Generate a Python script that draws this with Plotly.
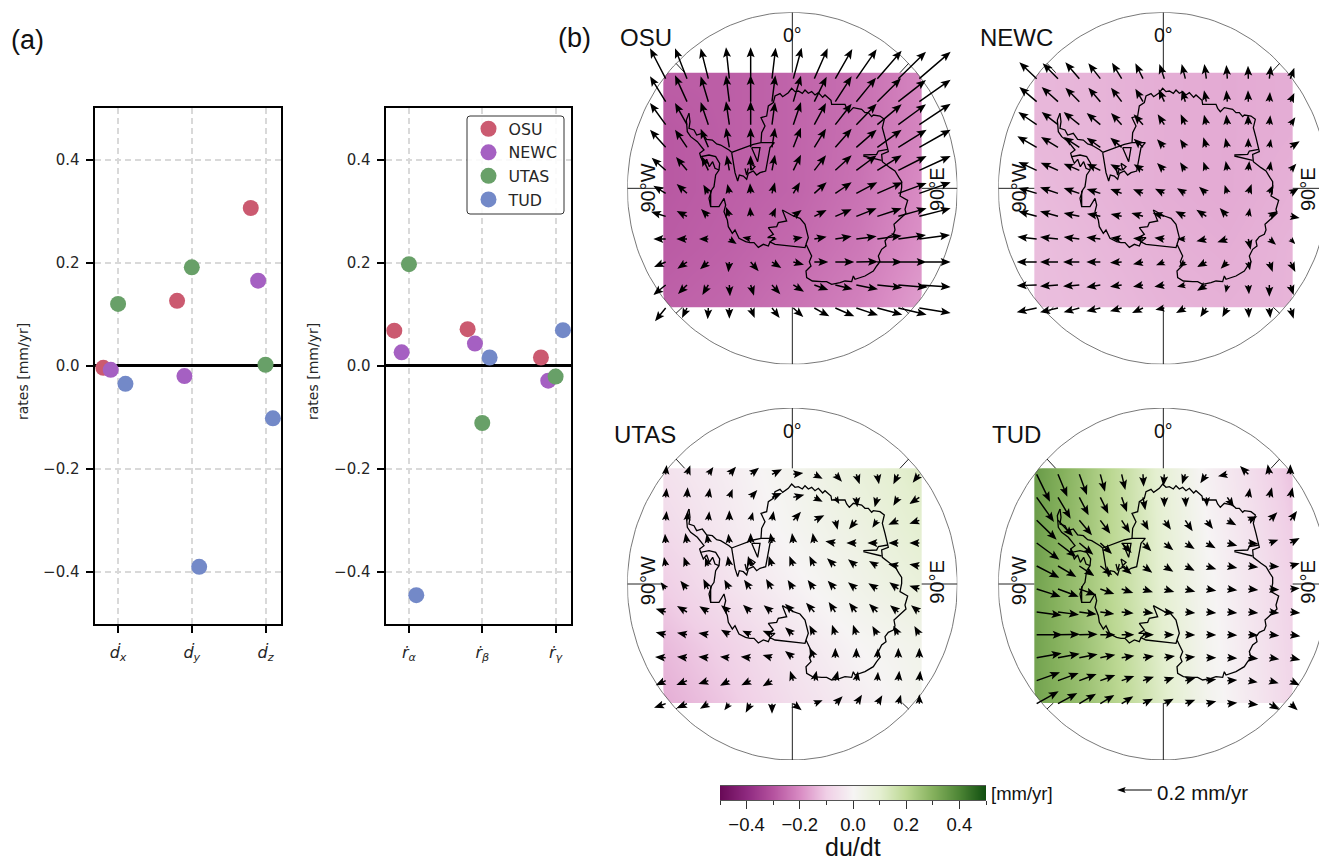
import math
import plotly.graph_objects as go

W, H = 1319, 861

# ---------- panel (a): rates ----------
SERIES = ["OSU", "NEWC", "UTAS", "TUD"]
SERIES_COLORS = ["#cb5a70", "#a560c2", "#68a068", "#7389c8"]
OFFSETS = [-0.2, -0.1, 0.0, 0.1]
TRANS_LABELS = ["<i>ḋ</i><sub><i>x</i></sub>", "<i>ḋ</i><sub><i>y</i></sub>", "<i>ḋ</i><sub><i>z</i></sub>"]
ROT_LABELS = ["<i>ṙ</i><sub><i>α</i></sub>", "<i>ṙ</i><sub><i>β</i></sub>", "<i>ṙ</i><sub><i>γ</i></sub>"]
TRANS_RATES = {
    "OSU": [-0.004, 0.126, 0.306],
    "NEWC": [-0.008, -0.020, 0.165],
    "UTAS": [0.120, 0.191, 0.002],
    "TUD": [-0.035, -0.390, -0.102],
}
ROT_RATES = {
    "OSU": [0.068, 0.071, 0.016],
    "NEWC": [0.026, 0.043, -0.029],
    "UTAS": [0.197, -0.111, -0.021],
    "TUD": [-0.445, 0.016, 0.069],
}

# ---------- panel (b): maps, coordinates in map units ----------
COL_X = [197, 261, 325, 388, 452, 516, 580, 643, 706, 769, 832, 895, 958]
ROW_Y = [236, 305, 374, 442, 511, 580, 649, 717, 786, 855, 924]

OSU_UV = [
    [(-47,-91),(-36,-91),(-23,-91),(-10,-94),(0,-94),(11,-93),(25,-93),(40,-91),(51,-89),(61,-88),(73,-84),(83,-81),(94,-81)],
    [(-47,-76),(-36,-79),(-23,-76),(-10,-79),(0,-80),(10,-79),(23,-78),(37,-75),(49,-76),(59,-72),(71,-70),(83,-65),(94,-66)],
    [(-47,-65),(-36,-65),(-23,-68),(-10,-70),(0,-70),(9,-68),(23,-68),(35,-65),(49,-63),(61,-63),(73,-61),(83,-61),(94,-63)],
    [(-47,-53),(-36,-53),(-23,-56),(-10,-59),(0,-59),(9,-59),(23,-59),(35,-56),(49,-56),(61,-53),(73,-53),(85,-53),(94,-53)],
    [(-42,-38),(-33,-40),(-20,-42),(-8,-45),(0,-45),(9,-47),(23,-47),(35,-45),(49,-45),(61,-45),(73,-45),(85,-43),(94,-43)],
    [(-37,-23),(-31,-28),(-15,-26),(-6,-28),(-2,-30),(9,-33),(20,-33),(37,-33),(49,-33),(63,-33),(76,-33),(85,-31),(94,-33)],
    [(-44,-14),(-31,-16),(-22,-22),(-10,-28),(-2,-28),(12,-26),(25,-19),(37,-19),(49,-21),(61,-24),(73,-24),(85,-24),(94,-24)],
    [(-37,0),(-32,0),(-28,0),(22,15),(-25,-5),(15,0),(28,-5),(37,-7),(49,-8),(61,-8),(73,-10),(83,-12),(92,-12)],
    [(-35,15),(-29,20),(-25,22),(-3,31),(24,28),(28,18),(32,8),(42,0),(57,0),(65,-1),(75,0),(85,0),(94,0)],
    [(-37,30),(-27,27),(-18,30),(2,34),(10,32),(25,28),(32,20),(42,15),(52,13),(65,13),(75,8),(87,7),(94,6)],
    [(-32,40),(-15,30),(-2,34),(0,32),(12,30),(23,30),(30,27),(45,25),(57,25),(65,22),(75,20),(85,20),(94,15)],
]
NEWC_UV = [
    [(-52,-49),(-46,-46),(-42,-49),(-36,-46),(-29,-48),(-23,-46),(-15,-44),(-11,-44),(-6,-44),(-3,-41),(-1,-39),(5,-39),(12,-33)],
    [(-52,-44),(-49,-44),(-42,-42),(-36,-42),(-32,-42),(-23,-39),(-17,-37),(-11,-34),(-7,-34),(-3,-34),(-1,-34),(2,-29),(12,-26)],
    [(-55,-38),(-49,-38),(-47,-38),(-41,-35),(-32,-35),(-28,-31),(-20,-31),(-14,-31),(-7,-30),(-3,-30),(-1,-30),(3,-28),(15,-22)],
    [(-58,-33),(-51,-31),(-47,-31),(-41,-29),(-34,-29),(-28,-26),(-22,-24),(-16,-24),(-9,-30),(-6,-28),(0,-28),(5,-25),(28,-18)],
    [(-55,-25),(-52,-23),(-47,-20),(-41,-20),(-34,-18),(-28,-18),(-22,-22),(-16,-24),(-9,-26),(-5,-28),(3,-28),(5,-27),(18,-20)],
    [(-55,-16),(-54,-18),(-47,-16),(-41,-13),(-34,-13),(-30,-12),(-28,-14),(-25,-15),(-22,-20),(-8,-25),(10,-28),(12,-25),(25,-15)],
    [(-55,-15),(-54,-15),(-47,-10),(-40,-8),(-33,-7),(-35,-10),(-35,-10),(-30,-15),(-30,-20),(-23,-25),(5,-25),(25,-15),(28,5)],
    [(-58,-7),(-54,-6),(-47,-6),(-42,-5),(-33,-4),(-30,-2),(-30,-4),(-25,0),(-30,7),(-30,10),(7,32),(20,17),(15,15)],
    [(-60,0),(-54,0),(-49,0),(-42,0),(-35,2),(-30,7),(-25,10),(-20,15),(-28,15),(-20,20),(5,25),(10,30),(15,30)],
    [(-60,2),(-54,4),(-49,4),(-42,7),(-35,5),(-30,5),(-30,5),(-25,5),(-28,17),(-5,23),(2,28),(0,35),(10,30)],
    [(-60,13),(-54,13),(-47,13),(-42,10),(-35,10),(-33,15),(-27,5),(-28,15),(-18,27),(-15,27),(2,30),(3,30),(10,32)],
]
UTAS_UV = [
    [(3,-28),(10,-27),(15,-22),(20,-23),(25,-20),(30,-15),(30,-4),(25,13),(20,22),(10,30),(5,30),(-15,30),(-20,25)],
    [(3,-28),(2,-30),(5,-28),(10,-25),(20,-22),(30,-13),(33,-8),(25,13),(12,20),(3,30),(-8,30),(-15,25),(-30,20)],
    [(3,-28),(3,-27),(3,-27),(0,-30),(7,-25),(5,-28),(23,-26),(30,-15),(7,28),(-22,27),(-15,22),(-30,13),(-30,10)],
    [(-2,-28),(-5,-30),(-5,-28),(-3,-28),(0,-30),(-5,-30),(-4,-30),(-5,-30),(-30,-5),(-30,0),(-30,0),(-30,0),(-30,0)],
    [(-5,-27),(-10,-28),(-10,-26),(-5,-30),(-8,-30),(-10,-30),(-12,-30),(-15,-30),(-25,-23),(-25,-20),(-25,-15),(-30,-5),(-30,-5)],
    [(-15,-20),(-20,-25),(-15,-30),(-15,-28),(-20,-28),(-18,-30),(-17,-27),(-20,-27),(-23,-25),(-25,-20),(-27,-17),(-27,-20),(-30,-10)],
    [(-30,-10),(-30,-18),(-27,-17),(-25,-20),(-23,-22),(-25,-20),(-25,-25),(-25,-28),(-20,-30),(-22,-28),(-25,-25),(-25,-20),(-25,-20)],
    [(-30,-7),(-30,-6),(-30,-5),(-25,-15),(-25,-12),(-28,-12),(-25,-22),(-15,-28),(-10,-30),(-10,-30),(-15,-26),(-15,-27),(-15,-26)],
    [(-32,-2),(-30,-3),(-30,-3),(-28,-3),(-30,-3),(-28,-8),(-25,-20),(-15,-30),(0,-30),(0,-30),(2,-28),(0,-30),(0,-30)],
    [(-30,14),(-32,13),(-30,10),(-28,15),(-28,14),(-28,17),(-10,-30),(7,-30),(8,-30),(5,-28),(2,-27),(3,-30),(3,-30)],
    [(-35,12),(-30,14),(-25,15),(-15,20),(-15,27),(0,30),(25,20),(25,-10),(22,-22),(17,-27),(15,-25),(8,-27),(0,-28)],
]
TUD_UV = [
    [(40,82),(28,67),(23,62),(14,52),(11,47),(2,37),(-3,35),(-10,30),(-18,27),(-28,6),(-25,-25),(-5,-30),(0,-30)],
    [(52,74),(38,64),(28,54),(24,49),(16,44),(7,39),(0,30),(2,30),(2,28),(20,30),(5,-28),(8,-30),(7,-30)],
    [(60,58),(45,48),(38,45),(30,40),(25,38),(17,30),(20,28),(22,33),(20,26),(27,15),(27,-12),(24,-24),(20,-28)],
    [(68,50),(55,42),(42,35),(35,33),(30,30),(25,25),(27,22),(28,18),(28,16),(30,8),(30,2),(27,-10),(28,-15)],
    [(68,35),(55,33),(45,30),(36,28),(30,25),(28,20),(27,17),(28,14),(30,10),(30,6),(30,4),(30,2),(28,-8)],
    [(72,23),(62,23),(50,18),(42,15),(35,12),(30,10),(30,9),(30,8),(30,5),(30,4),(30,3),(30,2),(28,-2)],
    [(75,10),(63,8),(52,7),(42,6),(36,4),(32,4),(30,3),(30,3),(30,3),(30,3),(30,3),(30,3),(30,3)],
    [(78,0),(66,-1),(55,-1),(45,0),(38,0),(33,0),(30,0),(30,1),(30,1),(30,2),(30,2),(30,3),(30,5)],
    [(75,-13),(65,-12),(55,-10),(45,-9),(38,-6),(33,-5),(32,-5),(30,-3),(30,0),(30,2),(30,3),(30,5),(30,7)],
    [(70,-25),(62,-23),(52,-20),(45,-17),(38,-14),(33,-12),(30,-10),(30,-8),(30,-4),(30,-2),(28,5),(28,8),(28,14)],
    [(66,-37),(58,-32),(50,-30),(42,-26),(35,-22),(30,-15),(28,-15),(30,-12),(30,-7),(30,-3),(30,3),(30,18),(22,20)],
]

# du/dt samples, top to bottom, left to right, mm/yr
OSU_Z = [
    [-0.28, -0.28, -0.27, -0.25, -0.21],
    [-0.29, -0.28, -0.27, -0.25, -0.21],
    [-0.29, -0.28, -0.27, -0.245, -0.20],
    [-0.285, -0.275, -0.26, -0.235, -0.19],
    [-0.275, -0.265, -0.245, -0.22, -0.17],
]
NEWC_Z = [
    [-0.135, -0.14, -0.15, -0.155, -0.15],
    [-0.135, -0.14, -0.15, -0.155, -0.15],
    [-0.13, -0.14, -0.15, -0.155, -0.145],
    [-0.125, -0.135, -0.145, -0.15, -0.14],
    [-0.125, -0.13, -0.14, -0.145, -0.14],
]
UTAS_Z = [
    [-0.05, -0.02, 0.02, 0.07, 0.12],
    [-0.07, -0.03, 0.01, 0.05, 0.10],
    [-0.10, -0.05, -0.01, 0.03, 0.07],
    [-0.13, -0.09, -0.04, 0.00, 0.03],
    [-0.15, -0.11, -0.06, -0.02, 0.02],
]
TUD_Z = [
    [0.35, 0.27, 0.18, 0.08, -0.01, -0.06, -0.12],
    [0.33, 0.26, 0.18, 0.09, 0.01, -0.04, -0.09],
    [0.33, 0.27, 0.20, 0.11, 0.02, -0.03, -0.08],
]

COLORSCALE = [
    [0.0, "#690a57"], [0.1, "#8f2a80"], [0.2, "#b5539f"], [0.3, "#d98cc4"], [0.4, "#f0cfe6"],
    [0.5, "#f6f4f4"], [0.6, "#e4efd0"], [0.7, "#bcd893"], [0.8, "#84b05c"], [0.9, "#4d8535"], [1.0, "#0f4d0f"],
]
CBAR_VALUES = [-0.5, -0.4, -0.3, -0.2, -0.1, 0.0, 0.1, 0.2, 0.3, 0.4, 0.5]

COAST = [
    [(483,428),(485,398),(495,378),(483,353),(500,348),(505,318),(520,308),(525,288),(540,281),(548,290),(565,278),
     (575,265),(585,275),(595,273),(607,280),(615,270),(625,280),(635,275),(645,285),(655,278),(668,292),(675,285),
     (693,301),(695,313),(735,313),(740,325),(748,335),(760,323),(785,328),(795,338),(805,338),(815,350),(820,345),
     (840,348),(853,358),(847,383),(855,413),(863,448),(865,455),(845,463),(847,485),(870,503),(885,513),(897,533),
     (905,545),(905,563),(900,588),(923,601),(915,628),(918,640),(910,648),(900,655),(882,673),(885,690),(880,703),
     (865,710),(855,723),(858,738),(845,748),(835,768),(840,785),(830,798),(820,813),(795,828),(765,838),(760,828),
     (755,845),(735,843),(720,848),(695,853),(680,845),(665,845),(637,843),(620,833),(618,813),(633,798),(628,785),
     (635,768),(618,733),(615,743),(585,740),(555,738),(525,733),(510,726),(505,738),(490,733),(475,742),(462,728),
     (450,728),(437,725),(417,715),(405,690),(397,700),(385,680),(382,660),(372,635),(377,615),(372,595),(357,620),
     (332,620),(327,595),(335,570),(342,560),(347,525),(357,510),(359,490),(347,470),(327,465),(302,470),(299,460),
     (312,450),(292,425),(272,410),(262,395),(259,360),(267,340)],
    [(267,340),(270,365),(267,385),(282,390),(290,405),(307,400),(320,418),(337,420),(350,432),(362,435),(387,450),(395,457)],
    [(395,457),(460,433),(483,428)],
    [(395,457),(400,493),(405,518),(413,543),(418,525),(430,528),(440,538),(445,520),(460,513),(470,525),(480,518),
     (497,513),(505,468),(510,443),(523,428),(500,428),(483,428)],
    [(455,443),(480,443),(473,485),(455,443)],
    [(790,465),(830,463),(835,453),(863,448)],
    [(790,468),(845,481)],
    [(547,630),(580,648),(600,655),(615,673),(625,713),(618,733)],
    [(547,630),(560,663),(535,668),(530,680),(505,683),(520,703),(503,713),(525,713),(510,726)],
    [(302,470),(310,490),(320,478),(328,500),(338,485),(345,505),(357,510)],
    [(332,572),(332,620)],
    [(435,505),(440,525),(445,505)],
    [(450,490),(465,500),(455,510),(450,490)],
]

KEY_UV = (-105, 0)
MAP_X_RANGE = [82, 1072]
MAP_Y_RANGE = [1093, 37]
RECT_X = [190, 965]
RECT_Y = [218, 922]
SPOKES = [
    [(577,37),(577,218)], [(577,922),(577,1093)], [(82,565),(190,565)], [(965,565),(1072,565)],
    [(228,190),(254,218)], [(926,190),(900,218)], [(228,940),(247,922)], [(926,940),(907,922)],
]

SANS = "Liberation Sans"
DEJA = "DejaVu Sans"
TICK_COLOR = "#262626"


def px(x):
    return x / W


def py(y):
    return 1 - y / H


def arrow_polygons(tails_uv, head=30.0, notch=25.0, barb=12.0, shaft=2.2):
    xs, ys = [], []
    for (x0, y0), (u, v) in tails_uv:
        length = math.hypot(u, v)
        if length == 0:
            continue
        s = min(1.0, length / head)
        ax, ay = u / length, v / length
        nx, ny = -ay, ax
        outline = [
            (0, shaft * s), (length - notch * s, shaft * s), (length - head * s, barb * s), (length, 0),
            (length - head * s, -barb * s), (length - notch * s, -shaft * s), (0, -shaft * s),
        ]
        for along, across in outline:
            xs.append(x0 + ax * along + nx * across)
            ys.append(y0 + ay * along + ny * across)
        xs.append(xs[-7])
        ys.append(ys[-7])
        xs.append(None)
        ys.append(None)
    return xs, ys


def segs(lines):
    xs, ys = [], []
    for line in lines:
        for x, y in line:
            xs.append(x)
            ys.append(y)
        xs.append(None)
        ys.append(None)
    return xs, ys


fig = go.Figure()

# scatter panels
for axn, rates, labels, box in [
    ("", TRANS_RATES, TRANS_LABELS, (94.5, 281)),
    ("2", ROT_RATES, ROT_LABELS, (385.5, 571)),
]:
    for i, name in enumerate(SERIES):
        fig.add_trace(go.Scatter(
            x=[k + OFFSETS[i] for k in range(3)], y=rates[name], mode="markers", name=name,
            marker=dict(size=16, color=SERIES_COLORS[i]), showlegend=axn == "2",
            xaxis="x" + axn, yaxis="y" + axn, hoverinfo="skip",
        ))
    common = dict(showline=True, mirror=True, linecolor="black", linewidth=2, ticks="outside", tickwidth=1.6,
                  ticklen=7, tickcolor="black", griddash="6px,4px", gridcolor="#d9d9d9", gridwidth=1.5)
    fig.layout["xaxis" + axn] = dict(
        common, domain=[px(box[0]), px(box[1])], range=[-0.32, 2.21], tickvals=[0, 1, 2], ticktext=labels,
        zeroline=False, anchor="y" + axn, tickfont=dict(family=DEJA, size=16, color=TICK_COLOR),
        ticklabelstandoff=6,
    )
    fig.layout["yaxis" + axn] = dict(
        common, domain=[py(623.5), py(108)], range=[-0.5, 0.5], tickvals=[-0.4, -0.2, 0, 0.2, 0.4],
        ticktext=["−0.4", "−0.2", "0.0", "0.2", "0.4"], zeroline=True, zerolinecolor="black", zerolinewidth=3,
        anchor="x" + axn, tickfont=dict(family=DEJA, size=15, color=TICK_COLOR), ticklabelstandoff=3,
    )

# map panels
MAPS = [
    ("3", "OSU", OSU_Z, OSU_UV, 0.0, 0.0, (618, 38)),
    ("4", "NEWC", NEWC_Z, NEWC_UV, 371.0, 0.0, (978, 38)),
    ("5", "UTAS", UTAS_Z, UTAS_UV, 0.0, 395.67, (612, 435)),
    ("6", "TUD", TUD_Z, TUD_UV, 371.0, 395.67, (990, 435)),
]
annotations = []


def text(x, y, s, size, family=SANS, angle=0, xanchor="center", color="black"):
    annotations.append(dict(x=px(x), y=py(y), xref="paper", yref="paper", text=s, showarrow=False, textangle=angle,
                            xanchor=xanchor, yanchor="middle", font=dict(family=family, size=size, color=color)))


for axn, name, z, uv, dx, dy, label_pos in MAPS:
    left = 627.33 + dx
    right = min(957.33 + dx, W)
    x_hi = MAP_X_RANGE[0] + (right - left) * 3
    xa, ya = "x" + axn, "y" + axn
    fig.layout["xaxis" + axn] = dict(domain=[px(left), px(right)], range=[MAP_X_RANGE[0], x_hi], visible=False,
                                     anchor=ya)
    fig.layout["yaxis" + axn] = dict(domain=[py(364.33 + dy), py(12.33 + dy)], range=MAP_Y_RANGE, visible=False,
                                     anchor=xa)
    ncol, nrow = len(z[0]), len(z)
    fig.add_trace(go.Heatmap(
        x=[RECT_X[0] + (RECT_X[1] - RECT_X[0]) * i / (ncol - 1) for i in range(ncol)],
        y=[RECT_Y[0] + (RECT_Y[1] - RECT_Y[0]) * j / (nrow - 1) for j in range(nrow)],
        z=z, coloraxis="coloraxis", zsmooth="best", xaxis=xa, yaxis=ya, hoverinfo="skip",
    ))
    # white mask: everything outside the rectangle and the map boundary
    box_pts = [(0, 0), (1200, 0), (1200, 1200), (0, 1200), (0, 0)]
    inner = []
    for a in range(225, 225 - 361, -2):
        ex = 577 + 495 * math.cos(math.radians(a))
        ey = 565 + 528 * math.sin(math.radians(a))
        inner.append((min(max(ex, RECT_X[0]), RECT_X[1]), min(max(ey, RECT_Y[0]), RECT_Y[1])))
    poly = box_pts + inner
    fig.add_trace(go.Scatter(x=[p[0] for p in poly], y=[p[1] for p in poly], mode="lines", fill="toself",
                             fillcolor="white", line=dict(width=0), showlegend=False, xaxis=xa, yaxis=ya,
                             hoverinfo="skip"))
    outline = [(577 + 495 * math.cos(math.radians(a)), 565 + 528 * math.sin(math.radians(a)))
               for a in range(0, 361, 2)]
    fig.add_trace(go.Scatter(x=[p[0] for p in outline], y=[p[1] for p in outline], mode="lines",
                             line=dict(color="#555555", width=0.8), showlegend=False, xaxis=xa, yaxis=ya,
                             hoverinfo="skip"))
    sx, sy = segs(SPOKES)
    fig.add_trace(go.Scatter(x=sx, y=sy, mode="lines", line=dict(color="#222222", width=1), showlegend=False,
                             xaxis=xa, yaxis=ya, hoverinfo="skip"))
    cx, cy = segs(COAST)
    fig.add_trace(go.Scatter(x=cx, y=cy, mode="lines", line=dict(color="black", width=1.3), showlegend=False,
                             xaxis=xa, yaxis=ya, hoverinfo="skip"))
    pairs = [((COL_X[c], ROW_Y[r]), uv[r][c]) for r in range(len(ROW_Y)) for c in range(len(COL_X))]
    ax_, ay_ = arrow_polygons(pairs)
    fig.add_trace(go.Scatter(x=ax_, y=ay_, mode="lines", fill="toself", fillcolor="black", line=dict(width=0),
                             showlegend=False, xaxis=xa, yaxis=ya, hoverinfo="skip"))
    text(label_pos[0], label_pos[1], name, 24, xanchor="left", color="#111111")
    text(792 + dx, 35 + dy, "0°", 19.5, color="#111111")
    text(647.5 + dx, 188 + dy - (0 if dy == 0 else 3), "90°W", 20, angle=-90, color="#111111")
    text(937.5 + dx, 189.5 + dy - (0 if dy == 0 else 3), "90°E", 20, angle=-90, color="#111111")

# colour bar
fig.add_trace(go.Heatmap(x=CBAR_VALUES, y=[0, 1], z=[CBAR_VALUES, CBAR_VALUES], coloraxis="coloraxis", zsmooth="best",
                         xaxis="x7", yaxis="y7", hoverinfo="skip"))
fig.layout.xaxis7 = dict(
    domain=[px(720), px(986)], range=[-0.5, 0.5], anchor="y7", tickvals=[-0.4, -0.2, 0, 0.2, 0.4],
    ticktext=["−0.4", "−0.2", "0.0", "0.2", "0.4"], ticks="outside", ticklen=8, tickwidth=1, tickcolor="#333333",
    minor=dict(tickvals=[-0.5, -0.3, -0.1, 0.1, 0.3, 0.5], ticks="outside", ticklen=4, tickcolor="#333333", tickwidth=1),
    showline=True, linecolor="#555555", linewidth=1, mirror=True, showgrid=False, zeroline=False,
    tickfont=dict(family=SANS, size=18.5, color="#111111"),
)
fig.layout.yaxis7 = dict(domain=[py(800), py(786)], range=[0, 1], anchor="x7", visible=False)

# key arrow
kx, ky = arrow_polygons([((105, 30), KEY_UV)], head=26.0, notch=22.0, barb=9.0, shaft=1.5)
fig.add_trace(go.Scatter(x=kx, y=ky, mode="lines", fill="toself", fillcolor="black", line=dict(width=0),
                         showlegend=False, xaxis="x8", yaxis="y8", hoverinfo="skip"))
fig.layout.xaxis8 = dict(domain=[px(1117), px(1152)], range=[0, 105], anchor="y8", visible=False)
fig.layout.yaxis8 = dict(domain=[py(800), py(780)], range=[60, 0], anchor="x8", visible=False)

text(9, 40, "(a)", 27, xanchor="left", color="#111111")
text(556, 38, "(b)", 27, xanchor="left", color="#111111")
text(23, 372, "rates [mm/yr]", 14, family=DEJA, angle=-90, color=TICK_COLOR)
text(313, 372, "rates [mm/yr]", 14, family=DEJA, angle=-90, color=TICK_COLOR)
text(989, 793, "[mm/yr]", 18.5, xanchor="left", color="#111111")
text(1155, 792, "0.2 mm/yr", 20.5, xanchor="left", color="#111111")
text(852.5, 847, "du/dt", 25, color="#111111")

# rounded legend frame, drawn behind the legend entries
lx0, lx1, ly0, ly1, r = px(467), px(564), py(214), py(116), 3
rx, ry = r / W, r / H
frame = (f"M {lx0+rx},{ly0} L {lx1-rx},{ly0} Q {lx1},{ly0} {lx1},{ly0+ry} L {lx1},{ly1-ry} Q {lx1},{ly1} {lx1-rx},{ly1} "
         f"L {lx0+rx},{ly1} Q {lx0},{ly1} {lx0},{ly1-ry} L {lx0},{ly0+ry} Q {lx0},{ly0} {lx0+rx},{ly0} Z")

fig.update_layout(
    width=W, height=H, margin=dict(l=0, r=0, t=0, b=0), paper_bgcolor="white", plot_bgcolor="white",
    coloraxis=dict(colorscale=COLORSCALE, cmin=-0.5, cmax=0.5, showscale=False),
    annotations=annotations,
    shapes=[dict(type="path", path=frame, xref="paper", yref="paper", fillcolor="rgba(255,255,255,0.85)",
                 line=dict(color="#333333", width=1), layer="above")],
    showlegend=True,
    legend=dict(x=px(468.5), y=py(112), xanchor="left", yanchor="top", bgcolor="rgba(0,0,0,0)", borderwidth=0,
                font=dict(family=DEJA, size=15.8, color=TICK_COLOR), itemsizing="trace"),
)

fig.write_html("out.html", config={"displayModeBar": False}, post_script="document.body.style.margin='0';")
